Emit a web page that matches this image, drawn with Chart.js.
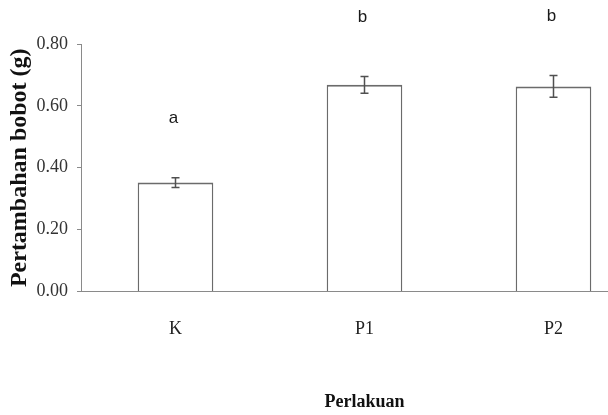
<!DOCTYPE html>
<html>
<head>
<meta charset="utf-8">
<title>Pertambahan bobot</title>
<script src="https://cdn.jsdelivr.net/npm/chart.js@4/dist/chart.umd.min.js"></script>
<style>
    html, body { margin: 0; padding: 0; background: #fff; overflow: hidden; }
    #wrap { width: 660px; height: 415px; }
</style>
</head>
<body>
<div id="wrap"><canvas id="chart" width="660" height="415"></canvas></div>
<script>
// Data
const categories = ['K', 'P1', 'P2'];
const means = [0.352, 0.668, 0.663];
const errors = [0.016, 0.027, 0.035];
const letters = ['a', 'b', 'b'];
const yTicks = [0, 0.2, 0.4, 0.6, 0.8];

const AXIS_GREY = '#8a8a8a';
const BAR_GREY = '#6b6b6b';

/**
 * Error bars (mean +/- error) and significance letters above them
 */
const errorBarPlugin = {
    id: 'errorBars',
    afterDatasetsDraw(chart) {
        const { ctx, scales: { x, y } } = chart;
        ctx.save();
        ctx.strokeStyle = '#505050';
        ctx.lineWidth = 1.5;
        means.forEach((mean, i) => {
            const cx = x.getPixelForValue(i);
            const top = y.getPixelForValue(mean + errors[i]);
            const bottom = y.getPixelForValue(mean - errors[i]);
            ctx.beginPath();
            ctx.moveTo(cx, top);
            ctx.lineTo(cx, bottom);
            ctx.moveTo(cx - 4, top);
            ctx.lineTo(cx + 4, top);
            ctx.moveTo(cx - 4, bottom);
            ctx.lineTo(cx + 4, bottom);
            ctx.stroke();

            // letter sits a fixed distance above the error bar
            ctx.fillStyle = '#1a1a1a';
            ctx.font = '17px "Liberation Sans", Arial, sans-serif';
            ctx.textAlign = 'center';
            ctx.textBaseline = 'middle';
            ctx.fillText(letters[i], cx - 2, top - 59);
        });
        ctx.restore();
    }
};

const serif = '"Liberation Serif", "Times New Roman", serif';

new Chart(document.getElementById('chart'), {
    type: 'bar',
    data: {
        labels: categories,
        datasets: [{
            data: means,
            backgroundColor: '#ffffff',
            borderColor: BAR_GREY,
            borderWidth: { top: 2, left: 1.5, right: 1.5, bottom: 0 },
            borderSkipped: 'start',
            barPercentage: 0.4,
            categoryPercentage: 1.0
        }]
    },
    options: {
        responsive: false,
        animation: false,
        events: [],
        layout: { padding: { top: 44, right: 12, left: 0, bottom: 0 } },
        plugins: {
            legend: { display: false },
            tooltip: { enabled: false }
        },
        scales: {
            x: {
                grid: { display: false, drawTicks: false },
                border: { display: true, color: AXIS_GREY, width: 1 },
                ticks: {
                    color: '#222',
                    font: { family: serif, size: 18 },
                    padding: 27
                },
                title: {
                    display: true,
                    text: 'Perlakuan',
                    color: '#111',
                    font: { family: serif, size: 18, weight: 'bold' },
                    padding: { top: 0, bottom: 2 }
                },
                afterFit(scale) { scale.height = 123.5; }
            },
            y: {
                min: 0,
                max: 0.8,
                afterBuildTicks(scale) {
                    scale.ticks = yTicks.map(v => ({ value: v }));
                },
                grid: {
                    drawOnChartArea: false,
                    drawTicks: true,
                    tickLength: 4,
                    color: AXIS_GREY
                },
                border: { display: true, color: AXIS_GREY, width: 1 },
                ticks: {
                    color: '#333',
                    font: { family: serif, size: 18 },
                    padding: 9,
                    callback: v => Number(v).toFixed(2)
                },
                title: {
                    display: true,
                    text: 'Pertambahan bobot (g)',
                    color: '#111',
                    font: { family: serif, size: 24, weight: 'bold' },
                    padding: { top: 5, bottom: 0 }
                },
                afterFit(scale) { scale.width = 81; }
            }
        }
    },
    plugins: [errorBarPlugin]
});
</script>
</body>
</html>
